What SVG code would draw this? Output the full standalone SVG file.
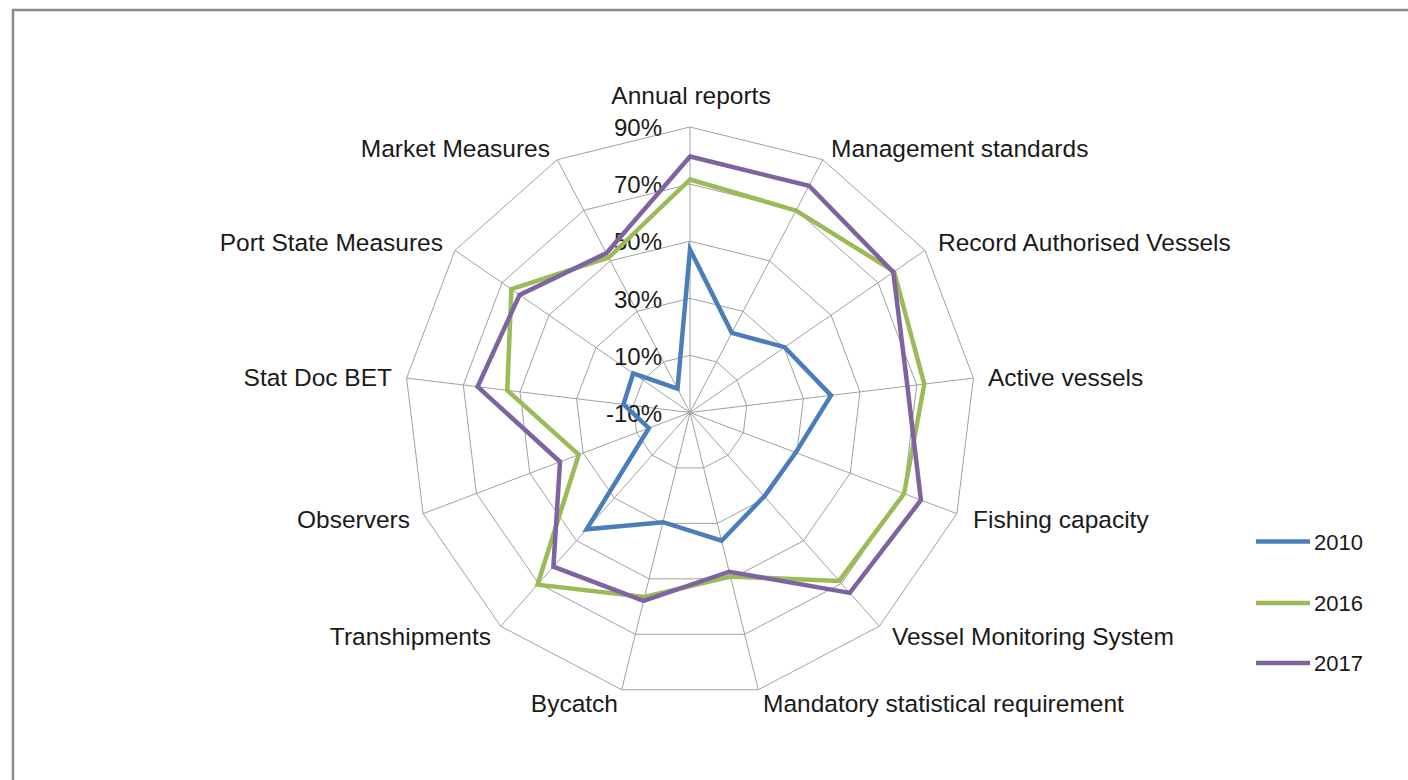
<svg xmlns="http://www.w3.org/2000/svg" width="1408" height="780" viewBox="0 0 1408 780">
<style>
.grid{fill:none;stroke:#a0a0a0;stroke-width:1}
.lbl{font-family:"Liberation Sans",Arial,sans-serif;font-size:24.5px;fill:#1a1a1a}
.tick{font-family:"Liberation Sans",Arial,sans-serif;font-size:24px;fill:#1a1a1a;text-anchor:end}
.leg{font-family:"Liberation Sans",Arial,sans-serif;font-size:22px;fill:#1a1a1a}
.s{fill:none;stroke-width:4.5;stroke-linejoin:miter;stroke-miterlimit:4}
.s2010{stroke:#4a7ebb}
.s2016{stroke:#9bbb59}
.s2017{stroke:#7f63a1}
</style>
<rect x="0" y="0" width="1408" height="780" fill="#ffffff"/>
<path d="M13,780 V10 H1408" fill="none" stroke="#8c8c8c" stroke-width="2.5"/>
<g id="grid" transform="translate(690,412.5)">
<polygon class="grid" points="0,-57.1 26.5,-50.6 47.0,-32.4 56.7,-6.9 53.4,20.2 37.9,42.7 13.7,55.4 -13.7,55.4 -37.9,42.7 -53.4,20.2 -56.7,-6.9 -47.0,-32.4 -26.5,-50.6"/>
<polygon class="grid" points="0,-114.2 53.1,-101.1 94.0,-64.9 113.4,-13.8 106.8,40.5 75.7,85.5 27.3,110.9 -27.3,110.9 -75.7,85.5 -106.8,40.5 -113.4,-13.8 -94.0,-64.9 -53.1,-101.1"/>
<polygon class="grid" points="0,-171.3 79.6,-151.7 141.0,-97.3 170.0,-20.6 160.2,60.7 113.6,128.2 41.0,166.3 -41.0,166.3 -113.6,128.2 -160.2,60.7 -170.0,-20.6 -141.0,-97.3 -79.6,-151.7"/>
<polygon class="grid" points="0,-228.4 106.1,-202.2 188.0,-129.8 226.7,-27.5 213.6,81.0 151.5,171.0 54.7,221.8 -54.7,221.8 -151.5,171.0 -213.6,81.0 -226.7,-27.5 -188.0,-129.8 -106.1,-202.2"/>
<polygon class="grid" points="0,-285.5 132.7,-252.8 235.0,-162.2 283.4,-34.4 266.9,101.2 189.3,213.7 68.3,277.2 -68.3,277.2 -189.3,213.7 -266.9,101.2 -283.4,-34.4 -235.0,-162.2 -132.7,-252.8"/>
<path class="grid" d="M0,0 L0,-285.5 M0,0 L132.7,-252.8 M0,0 L235.0,-162.2 M0,0 L283.4,-34.4 M0,0 L266.9,101.2 M0,0 L189.3,213.7 M0,0 L68.3,277.2 M0,0 L-68.3,277.2 M0,0 L-189.3,213.7 M0,0 L-266.9,101.2 M0,0 L-283.4,-34.4 M0,0 L-235.0,-162.2 M0,0 L-132.7,-252.8"/>
</g>
<g id="ticks">
<text class="tick" x="662" y="136">90%</text>
<text class="tick" x="662" y="193">70%</text>
<text class="tick" x="662" y="250">50%</text>
<text class="tick" x="662" y="307.5">30%</text>
<text class="tick" x="662" y="364.5">10%</text>
<text class="tick" x="662" y="421.5">-10%</text>
</g>
<g id="axis-labels">
<text id="lbl-annual" class="lbl" x="691" y="103.5" text-anchor="middle">Annual reports</text>
<text id="lbl-mgmt" class="lbl" x="831" y="157">Management standards</text>
<text id="lbl-record" class="lbl" x="938" y="251">Record Authorised Vessels</text>
<text id="lbl-active" class="lbl" x="988" y="386">Active vessels</text>
<text id="lbl-fishing" class="lbl" x="973" y="528">Fishing capacity</text>
<text id="lbl-vms" class="lbl" x="892" y="645">Vessel Monitoring System</text>
<text id="lbl-mandatory" class="lbl" x="763" y="712">Mandatory statistical requirement</text>
<text id="lbl-bycatch" class="lbl" x="618" y="712" text-anchor="end">Bycatch</text>
<text id="lbl-tranship" class="lbl" x="491" y="645" text-anchor="end">Transhipments</text>
<text id="lbl-observers" class="lbl" x="410" y="528" text-anchor="end">Observers</text>
<text id="lbl-statdoc" class="lbl" x="392" y="386" text-anchor="end">Stat Doc BET</text>
<text id="lbl-port" class="lbl" x="443" y="251" text-anchor="end">Port State Measures</text>
<text id="lbl-market" class="lbl" x="550" y="157" text-anchor="end">Market Measures</text>
</g>
<g id="series">
<polygon id="series-2010" class="s s2010" points="690,249.5 731.8,332.8 784.6,347.2 831.0,395.4 795.7,452.6 764.3,496.3 721.6,540.7 663.0,522.2 586.6,529.3 648.9,428.1 623.5,404.4 633.2,373.3 677.5,388.6"/>
<polygon id="series-2016" class="s s2016" points="690,179.5 796.0,210.6 894.1,271.6 924.3,384.1 904.1,493.7 839.2,580.9 730.4,576.6 644.5,597.0 537.5,584.7 578.7,454.7 507.3,390.3 511.4,289.2 608.7,257.5"/>
<polygon id="series-2017" class="s s2017" points="690,156.5 809.0,185.8 893.3,272.2 907.4,386.1 920.9,500.1 849.8,592.9 729.2,571.7 643.6,600.9 553.4,566.7 560.0,461.8 477.6,386.7 519.6,294.9 606.4,253.1"/>
</g>
<g id="legend">
<g id="legend-2010"><line x1="1256" y1="541.5" x2="1310" y2="541.5" class="s s2010"/><text class="leg" x="1314" y="549.5">2010</text></g>
<g id="legend-2016"><line x1="1256" y1="603" x2="1310" y2="603" class="s s2016"/><text class="leg" x="1314" y="611">2016</text></g>
<g id="legend-2017"><line x1="1256" y1="663" x2="1310" y2="663" class="s s2017"/><text class="leg" x="1314" y="671">2017</text></g>
</g>
</svg>
